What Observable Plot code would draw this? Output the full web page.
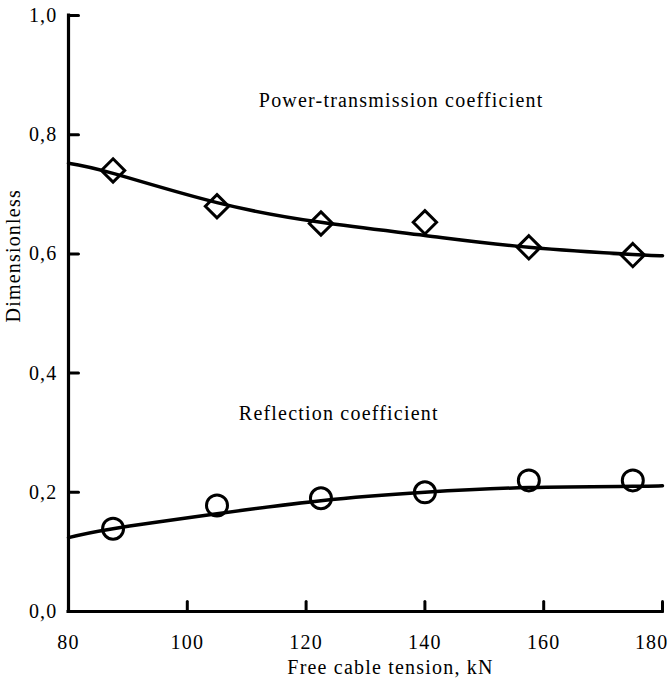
<!DOCTYPE html>
<html>
<head>
<meta charset="utf-8">
<script src="https://cdn.jsdelivr.net/npm/d3@7"></script>
<script src="https://cdn.jsdelivr.net/npm/@observablehq/plot@0.6"></script>
<style>
  html, body { margin: 0; padding: 0; background: #fff; }
  #chart svg { display: block; }
  #chart svg text { font-family: 'Liberation Serif', 'Times New Roman', serif; letter-spacing: 1.2px; }
</style>
</head>
<body>
<div id="chart"></div>
<script>
// Measured points
const tension = [87.5, 105, 122.5, 140, 157.5, 175];
const powerTransmission = [0.74, 0.68, 0.651, 0.653, 0.611, 0.598];
const reflection = [0.139, 0.178, 0.19, 0.20, 0.22, 0.22];

// Fitted curves
const curveTension = [80, 87.5, 105, 122.5, 140, 157.5, 175, 180];
const powerCurve = [0.752, 0.735, 0.686, 0.653, 0.631, 0.611, 0.599, 0.597];
const reflectionCurve = [0.124, 0.139, 0.164, 0.186, 0.200, 0.208, 0.210, 0.211];

// Axis ticks
const xTicks = [80, 100, 120, 140, 160, 180];
const yTicks = [0, 0.2, 0.4, 0.6, 0.8, 1.0];

// Curve labels (anchored in data units)
const curveLabels = [
  {text: "Power-transmission coefficient", x: 136, y: 0.857},
  {text: "Reflection coefficient", x: 125.5, y: 0.332}
];

const points = tension.map((t, i) => ({t, p: powerTransmission[i], r: reflection[i]}));
const curve = curveTension.map((t, i) => ({t, p: powerCurve[i], r: reflectionCurve[i]}));

const font = "'Liberation Serif', 'Times New Roman', serif";
const tickShape = {draw(ctx, l) { ctx.moveTo(0, 0); ctx.lineTo(0, -l); }};

const chart = Plot.plot({
  width: 667,
  height: 683,
  marginLeft: 68,
  marginRight: 5,
  marginTop: 15,
  marginBottom: 72,
  style: {fontFamily: font, fontSize: "20px", color: "#000", background: "#fff"},
  x: {domain: [80, 180]},
  y: {domain: [0, 1]},
  marks: [
    Plot.axisX({ticks: xTicks.slice(0, -1), tickSize: 0, tickPadding: 23, tickFormat: d => String(d), label: null, fontSize: 20}),
    Plot.axisX({ticks: xTicks.slice(-1), tickSize: 0, tickPadding: 23, tickFormat: d => String(d), label: null, fontSize: 20, textAnchor: "end", dx: 6}),
    Plot.axisY({ticks: yTicks, tickSize: 0, tickPadding: 11, tickFormat: d => d.toFixed(1).replace(".", ","), label: null, fontSize: 20}),
    Plot.ruleX([80], {stroke: "#000", strokeWidth: 3.2, strokeLinecap: "square"}),
    Plot.ruleY([0], {stroke: "#000", strokeWidth: 3, strokeLinecap: "square"}),
    Plot.vector(yTicks, {y: d => d, frameAnchor: "left", rotate: 90, length: 10, anchor: "start", stroke: "#000", strokeWidth: 3, shape: tickShape}),
    Plot.vector(xTicks, {x: d => d, frameAnchor: "bottom", rotate: 0, length: 10, anchor: "start", stroke: "#000", strokeWidth: 3, shape: tickShape}),
    Plot.line(curve, {x: "t", y: "p", curve: "natural", stroke: "#000", strokeWidth: 3.5}),
    Plot.line(curve, {x: "t", y: "r", curve: "natural", stroke: "#000", strokeWidth: 3.5}),
    Plot.dot(points, {x: "t", y: "p", symbol: "diamond2", r: 10.5, fill: "none", stroke: "#000", strokeWidth: 3}),
    Plot.dot(points, {x: "t", y: "r", symbol: "circle", r: 10.5, fill: "none", stroke: "#000", strokeWidth: 3}),
    Plot.text(curveLabels, {x: "x", y: "y", text: "text", fontSize: 20, fill: "#000", textAnchor: "middle"}),
    Plot.text(["Free cable tension, kN"], {frameAnchor: "bottom", dx: 25, dy: 62, fontSize: 20, fill: "#000"}),
    Plot.text(["Dimensionless"], {frameAnchor: "left", rotate: -90, dx: -55, dy: 9, fontSize: 20, fill: "#000"})
  ]
});

document.getElementById("chart").appendChild(chart);
</script>
</body>
</html>
